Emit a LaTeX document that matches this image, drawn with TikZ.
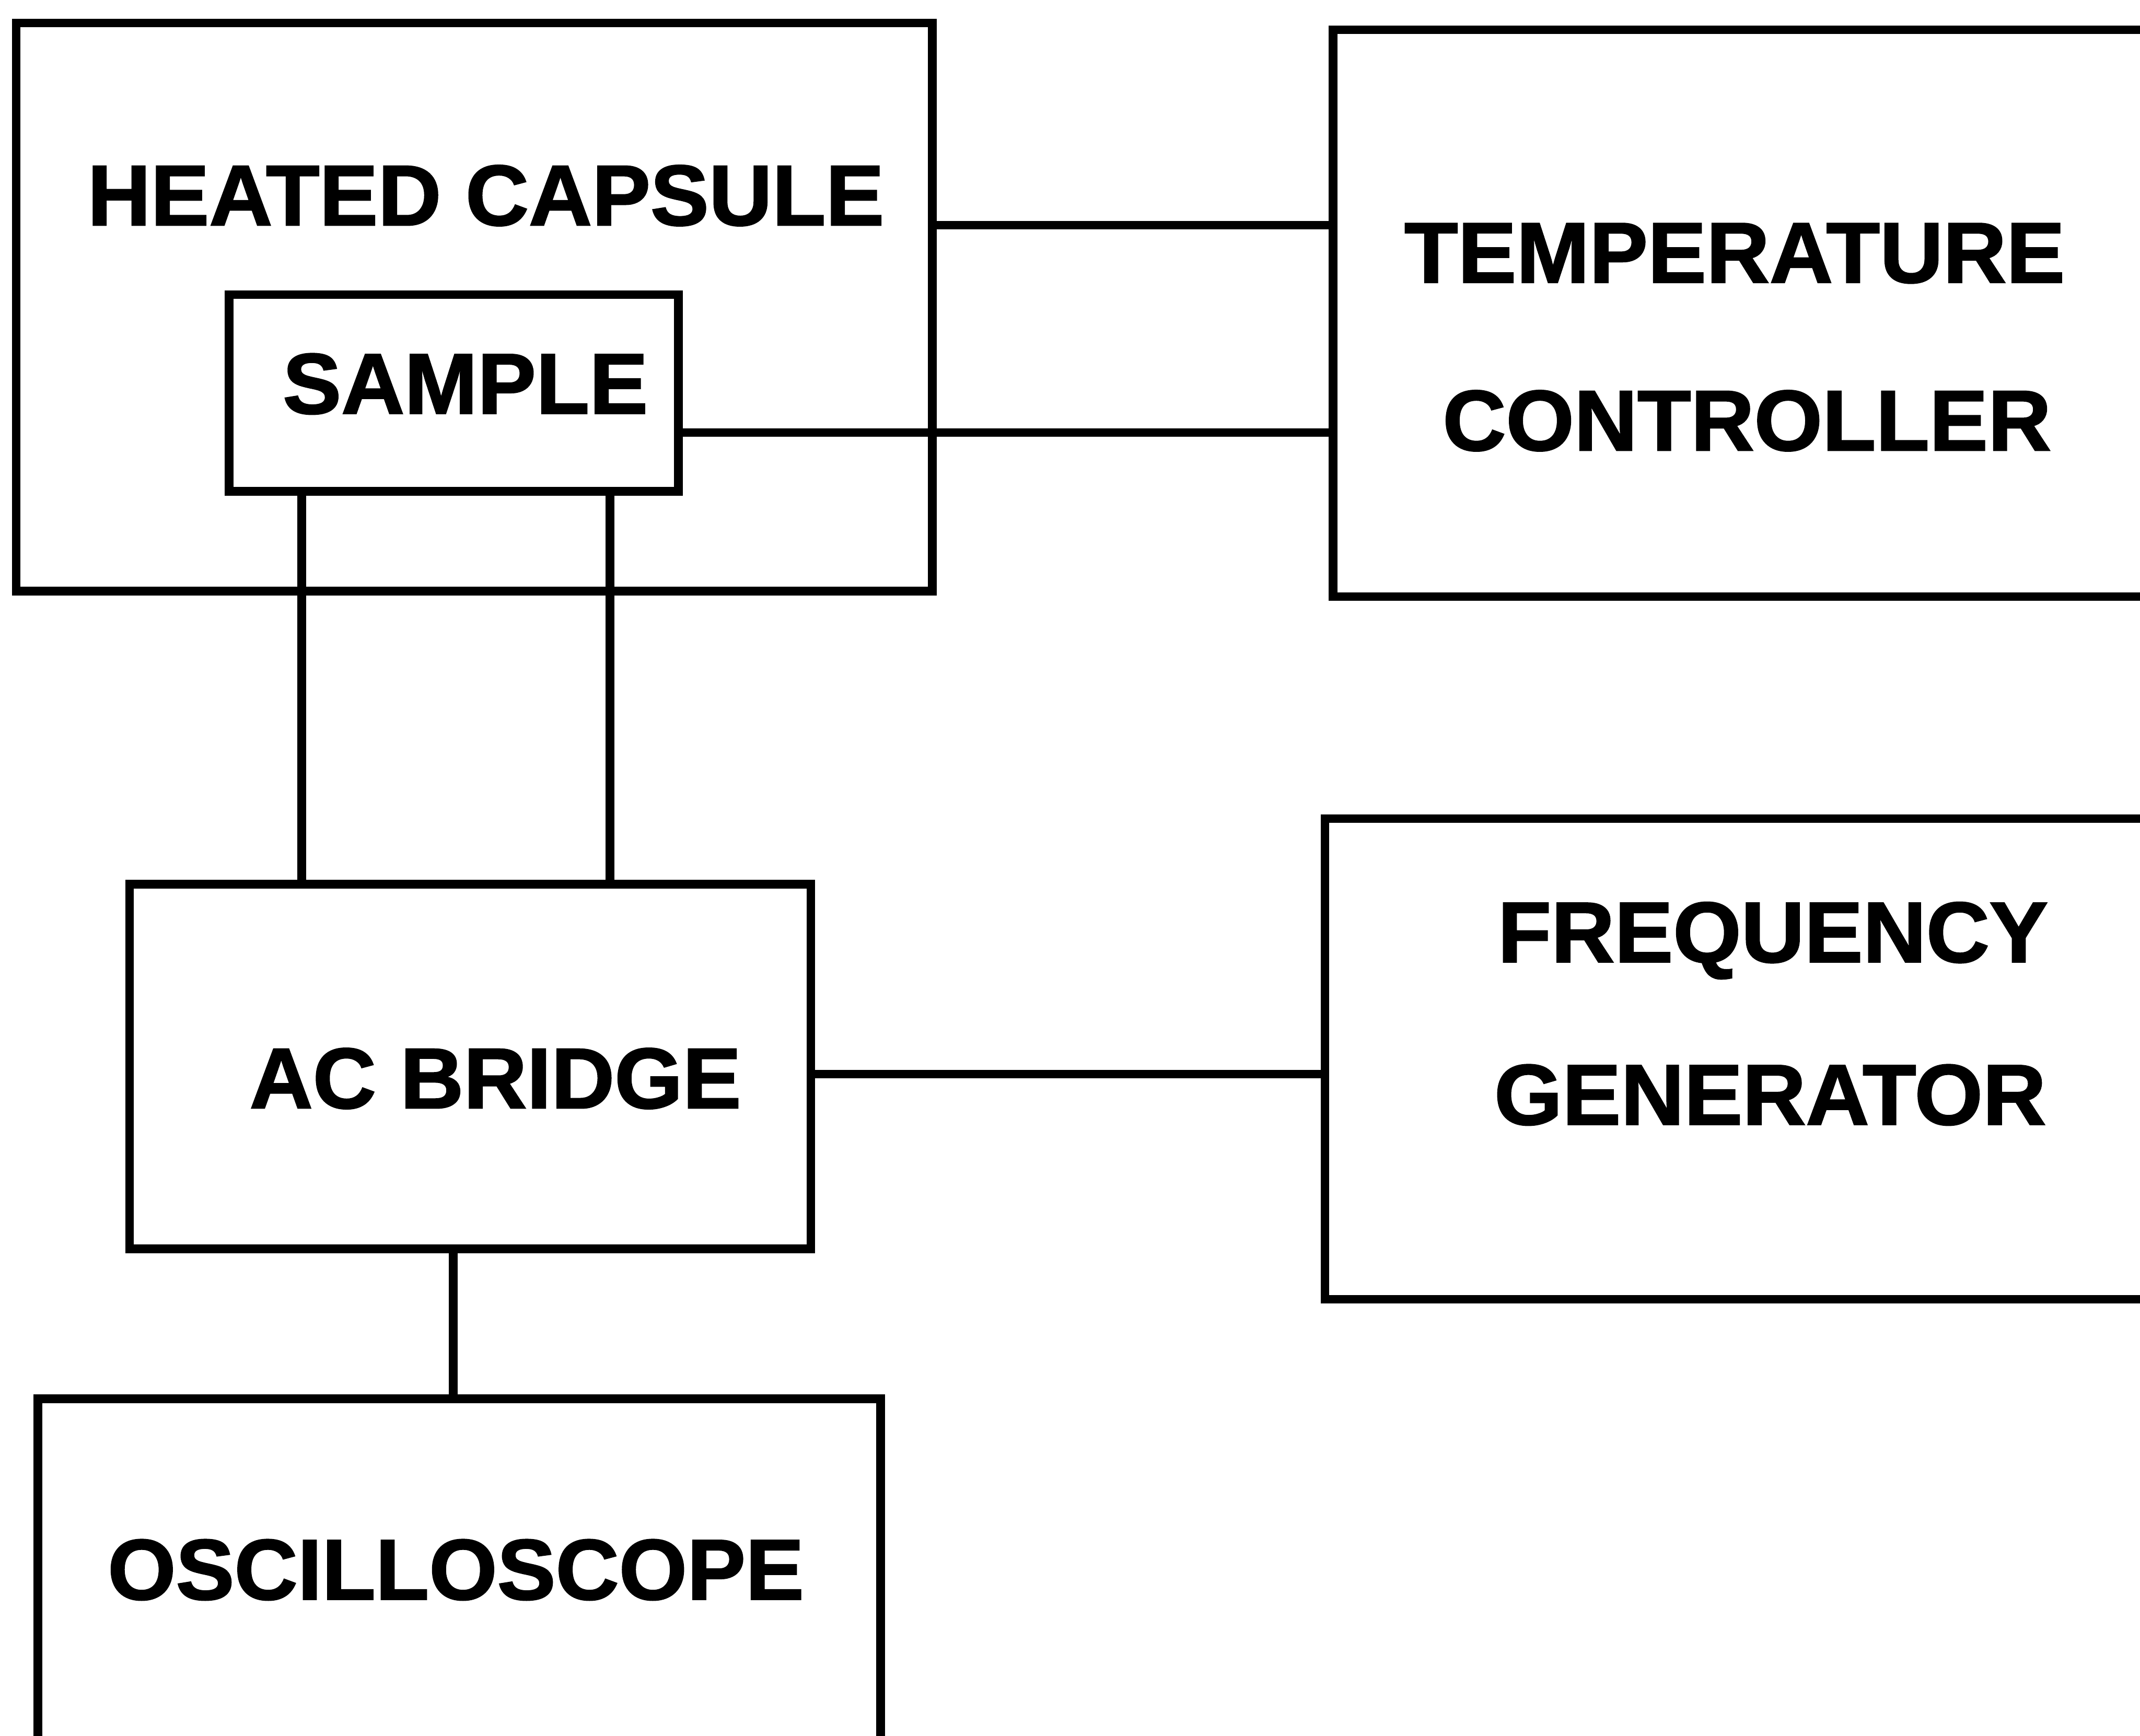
\documentclass[tikz,border=0pt]{standalone}
\usepackage{fontspec}
\setmainfont{Liberation Sans}[BoldFeatures={FakeBold=1.6,FakeStretch=1.02}]
\begin{document}
\begin{tikzpicture}[x=0.01cm,y=-0.01cm,
  box/.style={draw=black,line width=1.8pt,inner sep=0pt,outer sep=0pt,rectangle},
  lbl/.style={anchor=base,inner sep=0pt,font=\fontsize{17.9pt}{20pt}\selectfont\bfseries},
  wire/.style={draw=black,line width=1.8pt}]
\clip (0,0) rectangle (1568,1272);
\useasboundingbox (0,0) rectangle (1568,1272);
% boxes
\node[box,minimum width=6.71cm,minimum height=4.16cm] (hc) at (347.5,225) {};
\node[box,minimum width=3.29cm,minimum height=1.44cm] (sample) at (332.5,288) {};
\node[box,minimum width=6.43cm,minimum height=4.15cm] (tc) at (1298.5,229.5) {};
\node[box,minimum width=6.04cm,minimum height=3.52cm] (fg) at (1273,776) {};
\node[box,minimum width=4.99cm,minimum height=2.67cm] (ac) at (344.5,781.5) {};
\node[box,minimum width=6.17cm,minimum height=2.75cm] (osc) at (336.5,1162.5) {};
% labels
\node[lbl] (thc) at (356,165) {HEATED CAPSULE};
\node[lbl] (tsample) at (341,303) {SAMPLE};
\node[lbl] (ttc1) at (1271,207) {TEMPERATURE};
\node[lbl] (ttc2) at (1280,330) {CONTROLLER};
\node[lbl] (tfg1) at (1299,705) {FREQUENCY};
\node[lbl] (tfg2) at (1297,824) {GENERATOR};
\node[lbl] (tac) at (363,812) {AC BRIDGE};
\node[lbl] (tosc) at (334,1172) {OSCILLOSCOPE};
% connectors
\draw[wire] (hc.east |- 0,165) -- (tc.west |- 0,165);
\draw[wire] (sample.east |- 0,317) -- (tc.west |- 0,317);
\draw[wire] (sample.south -| 221,0) -- (ac.north -| 221,0);
\draw[wire] (sample.south -| 447,0) -- (ac.north -| 447,0);
\draw[wire] (ac.east |- 0,787) -- (fg.west |- 0,787);
\draw[wire] (ac.south -| 332,0) -- (osc.north -| 332,0);
\end{tikzpicture}
\end{document}
